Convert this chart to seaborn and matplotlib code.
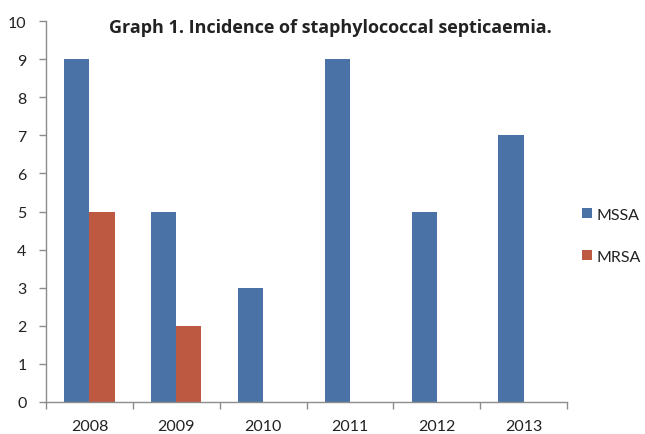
import numpy as np
import pandas as pd
import matplotlib
matplotlib.use("Agg")
import matplotlib.pyplot as plt
import seaborn as sns
from matplotlib.ticker import FixedLocator

years = ["2008", "2009", "2010", "2011", "2012", "2013"]
mssa = [9, 5, 3, 9, 5, 7]
mrsa = [5, 2, 0, 0, 0, 0]
series = ["MSSA", "MRSA"]
colors = ["#4A72A6", "#BD5841"]

df = pd.DataFrame({
    "year": years * 2,
    "count": mssa + mrsa,
    "series": ["MSSA"] * len(years) + ["MRSA"] * len(years),
})

sns.set_theme(style="white")
plt.rcParams["font.family"] = ["Lato", "DejaVu Sans"]

W, H = 645, 435
fig = plt.figure(figsize=(W / 100, H / 100), dpi=100)
ax = fig.add_axes([46 / W, 1 - 403 / H, (567 - 46) / W, (403 - 22) / H])

sns.barplot(data=df, x="year", y="count", hue="series", hue_order=series,
            palette=colors, width=0.58, saturation=1, linewidth=0,
            ax=ax, legend=True)

ax.set_ylim(0, 10)
ax.set_xlim(-0.5, len(years) - 0.5)
ax.set_yticks(range(0, 11))
ax.set_xlabel("")
ax.set_ylabel("")

for side in ["top", "right"]:
    ax.spines[side].set_visible(False)
for side in ["left", "bottom"]:
    ax.spines[side].set_color("#8C8C8C")
    ax.spines[side].set_linewidth(1.0)

ax.tick_params(axis="y", which="major", direction="out", length=5, width=1,
               color="#8C8C8C", labelsize=11.5, pad=9, left=True)
ax.tick_params(axis="x", which="major", length=0, labelsize=11.5, pad=12)
ax.xaxis.set_minor_locator(FixedLocator(np.arange(-0.5, len(years), 1.0)))
ax.tick_params(axis="x", which="minor", direction="out", length=5, width=1,
               color="#8C8C8C", bottom=True)
for lab in ax.get_xticklabels() + ax.get_yticklabels():
    lab.set_color("#222222")

fig.text(330 / W, 1 - 28 / H, "Graph 1. Incidence of staphylococcal septicaemia.",
         ha="center", va="center", fontsize=13, fontweight="bold",
         family=["Open Sans", "DejaVu Sans"], color="#222222")

leg = ax.legend(loc="center left", bbox_to_anchor=(582 / W, 1 - 237 / H),
                bbox_transform=fig.transFigure, frameon=False, fontsize=11.5,
                handlelength=0.6, handleheight=0.6, handletextpad=0.3,
                labelspacing=1.75, borderpad=0, borderaxespad=0)
for t in leg.get_texts():
    t.set_color("#222222")

fig.savefig("out.png", dpi=100)
